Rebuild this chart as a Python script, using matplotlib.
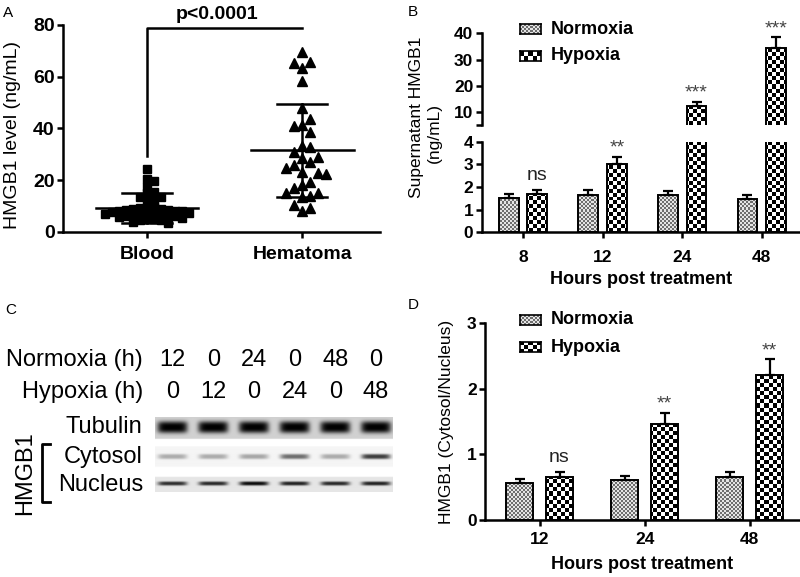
"""
HMGB1 figure: scatter (A), broken-axis bars (B), blot (C), ratio bars (D)
"""
import numpy as np
import matplotlib
matplotlib.use('Agg')
import matplotlib.pyplot as plt
from matplotlib.colors import ListedColormap
from matplotlib.patches import Rectangle

plt.rcParams['font.family'] = ['Liberation Sans', 'DejaVu Sans']

# ---------------- data ----------------
# A: HMGB1 level (ng/mL)
blood = [24.2, 20.4, 19.6, 17.5, 15.6, 15.2, 13.7, 13.7, 12.9, 12.1, 9.8, 9.5, 9.4,
         9.0, 8.8, 8.6, 8.5, 8.3, 8.1, 8.0, 7.8, 7.6, 7.5, 7.3, 7.1, 7.0, 6.8,
         6.6, 6.4, 6.2, 6.0, 5.8, 5.6, 5.4, 5.1, 4.8, 4.5, 4.0, 3.4]
hematoma = [69.7, 65.2, 65.6, 63.3, 58.5, 47.9, 43.5, 41.0, 41.4, 38.8, 33.2, 33.0,
            31.0, 28.5, 29.1, 25.9, 26.9, 24.6, 22.7, 22.4, 23.3, 19.4, 18.2, 16.9,
            15.2, 14.0, 13.4, 15.2, 10.4, 9.2, 8.1]
groups_a = ['Blood', 'Hematoma']
mean_a = [9.3, 31.5]
sd_a = [5.7, 17.9]
bracket_a = [29.5, 79.0]

# B: supernatant HMGB1 (ng/mL)
hours_b = ['8', '12', '24', '48']
norm_b = [1.53, 1.65, 1.65, 1.48]
norm_b_err = [0.18, 0.20, 0.18, 0.17]
hyp_b = [1.68, 3.00, 12.4, 34.3]
hyp_b_err = [0.18, 0.33, 1.6, 4.2]
sig_b = ['ns', '**', '***', '***']

# C: blot lanes and band strength (0..1)
normoxia_h = ['12', '0', '24', '0', '48', '0']
hypoxia_h = ['0', '12', '0', '24', '0', '48']
tubulin_band = [1.0, 1.0, 1.0, 1.0, 1.0, 1.0]
cytosol_band = [0.30, 0.30, 0.32, 0.55, 0.30, 0.75]
nucleus_band = [0.80, 0.82, 0.95, 0.85, 0.82, 0.85]

# D: HMGB1 cytosol/nucleus
hours_d = ['12', '24', '48']
norm_d = [0.57, 0.61, 0.65]
norm_d_err = [0.06, 0.065, 0.08]
hyp_d = [0.66, 1.47, 2.21]
hyp_d_err = [0.07, 0.16, 0.24]
sig_d = ['ns', '**', '**']

# ---------------- helpers ----------------
W, H = 800, 577
fig = plt.figure(figsize=(8, 5.77), dpi=100)


def px_box(x0, y0, x1, y1):
    # pixel box (top-left origin) -> figure fraction rect
    return [x0 / W, 1 - y1 / H, (x1 - x0) / W, (y1 - y0) / H]


def ftext(x, y, s, **kw):
    fig.text(x / W, 1 - y / H, s, **kw)


def style_axes(ax, left=True, bottom=True, xpad=4):
    for s in ['top', 'right']:
        ax.spines[s].set_visible(False)
    ax.spines['left'].set_visible(left)
    ax.spines['bottom'].set_visible(bottom)
    for s in ['left', 'bottom']:
        ax.spines[s].set_linewidth(1.8)
    ax.tick_params(direction='out', length=4, width=1.8, pad=2)
    ax.tick_params(axis='x', pad=xpad)


def checker(ax, cell, colors, clip=None, zorder=1.5):
    bb = ax.get_position()
    nx = max(1, int(round(bb.width * W / cell)))
    ny = max(1, int(round(bb.height * H / cell)))
    grid = np.add.outer(np.arange(ny), np.arange(nx)) % 2
    im = ax.imshow(grid, cmap=ListedColormap(colors), extent=[0, 1, 0, 1],
                   transform=ax.transAxes, aspect='auto',
                   interpolation='nearest', zorder=zorder)
    if clip is not None:
        im.set_clip_path(clip)


NORM_TEX = (2, ['#6e6e6e', '#e4e4e4'])
HYP_TEX = (4, ['#000000', '#ffffff'])


def draw_bars(ax, x, vals, errs, tex, ylim, bw):
    bars = ax.bar(x, vals, width=bw, facecolor='none', edgecolor='k',
                  linewidth=1.4, zorder=2)
    for b in bars:
        y0 = max(b.get_y(), ylim[0])
        y1 = min(b.get_y() + b.get_height(), ylim[1])
        if y1 <= y0:
            continue
        r = Rectangle((b.get_x(), y0), b.get_width(), y1 - y0,
                      transform=ax.transData)
        checker(ax, tex[0], tex[1], clip=r)
    ax.errorbar(x, vals, yerr=[np.zeros(len(vals)), errs], fmt='none',
                ecolor='k', elinewidth=1.6, capsize=3.5, capthick=1.6, zorder=3)


def legend_box(x, y):
    # x, y: pixel top-left of the Normoxia box
    for i, (tex, name) in enumerate([(NORM_TEX, 'Normoxia'), (HYP_TEX, 'Hypoxia')]):
        top = y + i * 27
        lax = fig.add_axes(px_box(x, top, x + 21, top + 10))
        checker(lax, tex[0], tex[1])
        lax.set_xlim(0, 1)
        lax.set_ylim(0, 1)
        lax.set_xticks([])
        lax.set_yticks([])
        for s in lax.spines.values():
            s.set_linewidth(1.2)
        ftext(x + 31, top + 5, name, fontsize=13, fontweight='bold',
              va='center', ha='left')


def swarm_offsets(values, px_x, px_y, size_x, size_y):
    vals = np.asarray(values, float)
    offs = np.zeros(len(vals))
    placed = []
    cands = [0.0]
    for k in range(1, 80):
        cands += [k * size_x / 2, -k * size_x / 2]
    for i in np.argsort(-vals):
        y = vals[i] * px_y
        for c in cands:
            if all(abs(c - px) >= size_x or abs(y - py) >= size_y
                   for px, py in placed):
                break
        placed.append((c, y))
        offs[i] = c / px_x
    return offs


def sig_text(ax, x, top, s):
    if s == 'ns':
        ax.annotate(s, (x, top), xytext=(0, 7), textcoords='offset points',
                    ha='center', va='baseline', fontsize=14, color='#222222',
                    annotation_clip=False)
    else:
        ax.annotate(s, (x, top), xytext=(0, 3), textcoords='offset points',
                    ha='center', va='baseline', fontsize=14, color='#444444',
                    annotation_clip=False)


# ---------------- Panel A ----------------
ax_a = fig.add_axes(px_box(63, 25, 380, 232))
style_axes(ax_a, xpad=6)
xlim_a, ylim_a = (-0.54, 1.5), (0, 80)
px_x_a = 317 / (xlim_a[1] - xlim_a[0])
px_y_a = 207 / (ylim_a[1] - ylim_a[0])

off_b = swarm_offsets(blood, px_x_a, px_y_a, 7.0, 5.5)
off_h = swarm_offsets(hematoma, px_x_a, px_y_a, 8.0, 12.0)
ax_a.plot(0 + off_b, blood, 's', color='k', markersize=5.3, linestyle='none',
          clip_on=False, zorder=2)
ax_a.plot(1 + off_h, hematoma, '^', color='k', markersize=6.5, linestyle='none',
          clip_on=False, zorder=2)
for i in range(2):
    ax_a.plot([i - 0.33, i + 0.33], [mean_a[i]] * 2, color='k', lw=1.8, zorder=3)
    ax_a.plot([i, i], [mean_a[i] - sd_a[i], mean_a[i] + sd_a[i]], color='k',
              lw=1.8, zorder=3)
    for v in (mean_a[i] - sd_a[i], mean_a[i] + sd_a[i]):
        ax_a.plot([i - 0.16, i + 0.16], [v, v], color='k', lw=1.8, zorder=3)

ax_a.plot([0, 0, 1], [bracket_a[0], bracket_a[1], bracket_a[1]], color='k',
          lw=1.8, clip_on=False)
ax_a.annotate('p<0.0001', (0.45, bracket_a[1]), xytext=(0, 3),
              textcoords='offset points', ha='center', va='bottom',
              fontsize=14, fontweight='bold', annotation_clip=False)

ax_a.set_xlim(xlim_a)
ax_a.set_ylim(ylim_a)
ax_a.set_xticks([0, 1], groups_a, fontsize=14, fontweight='bold')
ax_a.set_yticks([0, 20, 40, 60, 80], ['0', '20', '40', '60', '80'],
                fontsize=14, fontweight='bold')
ftext(13, 135, 'HMGB1 level (ng/mL)', fontsize=14, rotation=90,
      ha='center', va='center')
ftext(3, 13, 'A', fontsize=11, va='center')

# ---------------- Panel B (broken y axis) ----------------
xb = np.arange(len(hours_b))
xlim_b = (-0.52, 3.48)
ax_bl = fig.add_axes(px_box(481.7, 141.7, 800, 232.3))
ax_bu = fig.add_axes(px_box(481.7, 33.3, 800, 125.5))
style_axes(ax_bl, xpad=9)
style_axes(ax_bu, bottom=False)
for ax, ylim in [(ax_bl, (0, 4)), (ax_bu, (5, 40))]:
    ax.set_xlim(xlim_b)
    ax.set_ylim(ylim)
    draw_bars(ax, xb - 0.18, norm_b, norm_b_err, NORM_TEX, ylim, 0.25)
    draw_bars(ax, xb + 0.18, hyp_b, hyp_b_err, HYP_TEX, ylim, 0.25)
    ax.set_xlim(xlim_b)
    ax.set_ylim(ylim)

for i, s in enumerate(sig_b):
    ax = ax_bu if hyp_b[i] > 4 else ax_bl
    sig_text(ax, xb[i] + 0.18, hyp_b[i] + hyp_b_err[i], s)

ax_bl.set_xticks(xb, hours_b, fontsize=12.5, fontweight='bold')
ax_bl.set_yticks([0, 1, 2, 3, 4], ['0', '1', '2', '3', '4'],
                 fontsize=12.5, fontweight='bold')
ax_bu.set_xticks([])
ax_bu.set_yticks([5, 10, 20, 30, 40], ['', '10', '20', '30', '40'],
                 fontsize=12.5, fontweight='bold')
ax_bl.set_xlabel('Hours post treatment', fontsize=13, fontweight='bold', labelpad=4)
ftext(416, 117, 'Supernatant HMGB1', fontsize=12.5, rotation=90,
      ha='center', va='center')
ftext(434, 133, '(ng/mL)', fontsize=12.5, rotation=90, ha='center', va='center')
legend_box(520, 24)
ftext(408, 12, 'B', fontsize=11, va='center')

# ---------------- Panel C (blot) ----------------
lane_px = 155 + 17.5 + 40.7 * np.arange(6)
cfont = 17
ftext(143, 360, 'Normoxia (h)', fontsize=cfont, ha='right', va='center')
ftext(143, 392, 'Hypoxia (h)', fontsize=cfont, ha='right', va='center')
for i in range(6):
    ftext(lane_px[i], 360, normoxia_h[i], fontsize=cfont, ha='center', va='center')
    ftext(lane_px[i], 392, hypoxia_h[i], fontsize=cfont, ha='center', va='center')
ftext(142, 427, 'Tubulin', fontsize=cfont, ha='right', va='center')
ftext(143, 457, 'Cytosol', fontsize=cfont, ha='right', va='center')
ftext(143, 485, 'Nucleus', fontsize=cfont, ha='right', va='center')
ftext(25, 473, 'HMGB1', fontsize=cfont, rotation=90, ha='center', va='center')
ftext(5, 310, 'C', fontsize=11, va='center')

ax_c = fig.add_axes(px_box(155, 416.7, 393, 491.7))
res = 4
nx, ny = 238 * res, 75 * res
xx, yy = np.meshgrid((np.arange(nx) + 0.5) / res, (np.arange(ny) + 0.5) / res)
blot = np.ones((ny, nx))
lane_rel = 17.5 + 40.7 * np.arange(6)
strips = [(0, 22.6, 0.82, 11.0, 5.8, 15.0, tubulin_band),
          (30, 50, 0.96, 40.0, 2.5, 14.5, cytosol_band),
          (60, 75, 0.90, 66.6, 2.0, 14.5, nucleus_band)]
for top, bot, bg, yc, hh, hw, strength in strips:
    dark = np.zeros_like(xx)
    for lx, st in zip(lane_rel, strength):
        dark += st * np.exp(-((xx - lx) / hw) ** 6) * np.exp(-np.abs((yy - yc) / hh) ** 3)
    rows = (yy >= top) & (yy < bot)
    blot[rows] = (bg * (1 - np.clip(dark, 0, 1)))[rows]
ax_c.imshow(blot, cmap='gray', vmin=0, vmax=1, extent=[0, 238, 75, 0],
            aspect='auto', interpolation='bilinear')
ax_c.axis('off')

# bracket next to HMGB1 rows
ax_br = fig.add_axes(px_box(0, 0, 800, 577))
ax_br.set_xlim(0, W)
ax_br.set_ylim(H, 0)
ax_br.axis('off')
ax_br.plot([50, 42, 42, 50], [444, 444, 502, 502], color='k', lw=2)

# ---------------- Panel D ----------------
xd = np.arange(len(hours_d))
ax_d = fig.add_axes(px_box(485, 323.3, 800, 520))
style_axes(ax_d, xpad=5)
ylim_d = (0, 3)
ax_d.set_xlim(-0.52, 2.48)
ax_d.set_ylim(ylim_d)
draw_bars(ax_d, xd - 0.19, norm_d, norm_d_err, NORM_TEX, ylim_d, 0.26)
draw_bars(ax_d, xd + 0.19, hyp_d, hyp_d_err, HYP_TEX, ylim_d, 0.26)
ax_d.set_xlim(-0.52, 2.48)
ax_d.set_ylim(ylim_d)
for i, s in enumerate(sig_d):
    sig_text(ax_d, xd[i] + 0.19, hyp_d[i] + hyp_d_err[i], s)
ax_d.set_xticks(xd, hours_d, fontsize=12.5, fontweight='bold')
ax_d.set_yticks([0, 1, 2, 3], ['0', '1', '2', '3'], fontsize=12.5, fontweight='bold')
ax_d.set_xlabel('Hours post treatment', fontsize=13, fontweight='bold', labelpad=6)
ax_d.set_ylabel('HMGB1 (Cytosol/Nucleus)', fontsize=12.5, labelpad=9)
legend_box(520, 315)
ftext(408, 305, 'D', fontsize=11, va='center')

fig.savefig('out.png', dpi=100)
